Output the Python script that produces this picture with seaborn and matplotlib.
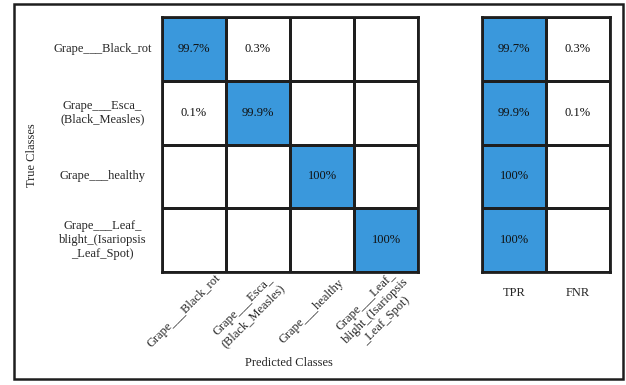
import numpy as np
import matplotlib
matplotlib.use("Agg")
import matplotlib.pyplot as plt
from matplotlib.colors import ListedColormap, BoundaryNorm
from matplotlib.patches import Rectangle
from matplotlib.transforms import ScaledTranslation
import seaborn as sns

# ---- data ----
classes = ["Grape___Black_rot",
           "Grape___Esca_\n(Black_Measles)",
           "Grape___healthy",
           "Grape___Leaf_\nblight_(Isariopsis\n_Leaf_Spot)"]
cm_row1 = [99.7, 0.3, 0, 0]
cm_row2 = [0.1, 99.9, 0, 0]
cm_row3 = [0, 0, 100, 0]
cm_row4 = [0, 0, 0, 100]
tpr = [99.7, 99.9, 100, 100]
fnr = [0.3, 0.1, 0, 0]
rate_labels = ["TPR", "FNR"]

sns.set_theme(style="white")
plt.rcParams['font.family'] = ['Liberation Serif', 'DejaVu Serif']
FS = 9
BLUE = "#3a98dc"
EDGE = "#1e1e1e"

cm = np.array([cm_row1, cm_row2, cm_row3, cm_row4], dtype=float)
rates = np.array([tpr, fnr], dtype=float).T

def fmt(v):
    return f"{v:g}%" if v > 0 else ""

cmap = ListedColormap(["white", BLUE])
norm = BoundaryNorm([0, 50, 100.5], 2)

W, H = 626, 385
fig = plt.figure(figsize=(W / 100, H / 100), dpi=100)

def px_axes(x0, y0, x1, y1):
    return fig.add_axes([x0 / W, 1 - y1 / H, (x1 - x0) / W, (y1 - y0) / H])

ax1 = px_axes(162, 17, 418, 272)
ax2 = px_axes(482, 17, 610, 272)

annot1 = np.vectorize(fmt)(cm)
annot2 = np.vectorize(fmt)(rates)

sns.heatmap(cm, ax=ax1, cmap=cmap, norm=norm, cbar=False, annot=annot1, fmt="",
            linewidths=2, linecolor=EDGE, square=False,
            annot_kws={"fontsize": FS, "color": "#111111"})
sns.heatmap(rates, ax=ax2, cmap=cmap, norm=norm, cbar=False, annot=annot2, fmt="",
            linewidths=2, linecolor=EDGE, square=False,
            annot_kws={"fontsize": FS, "color": "#111111"})

for ax in (ax1, ax2):
    for s in ax.spines.values():
        s.set_visible(True)
        s.set_color(EDGE)
        s.set_linewidth(2)

# y tick labels (main)
ax1.set_yticks(np.arange(len(classes)) + 0.5)
ax1.set_yticklabels(classes, rotation=0, ha="center", va="center",
                    multialignment="center", fontsize=FS)
ax1.tick_params(axis="y", length=0, pad=43)

# x tick labels (main)
ax1.set_xticks(np.arange(len(classes)) + 0.5)
ax1.set_xticklabels(classes, rotation=45, ha="center", va="center",
                    rotation_mode="anchor", multialignment="center", fontsize=FS)
ax1.tick_params(axis="x", length=0, pad=28)
off = ScaledTranslation(-10 / 100, 0, fig.dpi_scale_trans)
for lab in ax1.get_xticklabels():
    lab.set_transform(lab.get_transform() + off)

# right heatmap labels
ax2.set_xticks(np.arange(len(rate_labels)) + 0.5)
ax2.set_xticklabels(rate_labels, rotation=0, ha="center", va="center", fontsize=FS)
ax2.tick_params(axis="x", length=0, pad=15)
ax2.set_yticks([])

ax1.set_xlabel("")
ax1.set_ylabel("")

fig.text(289 / W, 1 - 363 / H, "Predicted Classes", ha="center", va="center", fontsize=FS)
fig.text(32 / W, 1 - 155 / H, "True Classes", ha="center", va="center",
         rotation=90, fontsize=FS)

# outer frame
fig.add_artist(Rectangle((14 / W, 1 - 379 / H), (623 - 14) / W, (379 - 4) / H,
                         transform=fig.transFigure, fill=False,
                         edgecolor=EDGE, linewidth=1.8))

fig.savefig("out.png", dpi=100, facecolor="white")
